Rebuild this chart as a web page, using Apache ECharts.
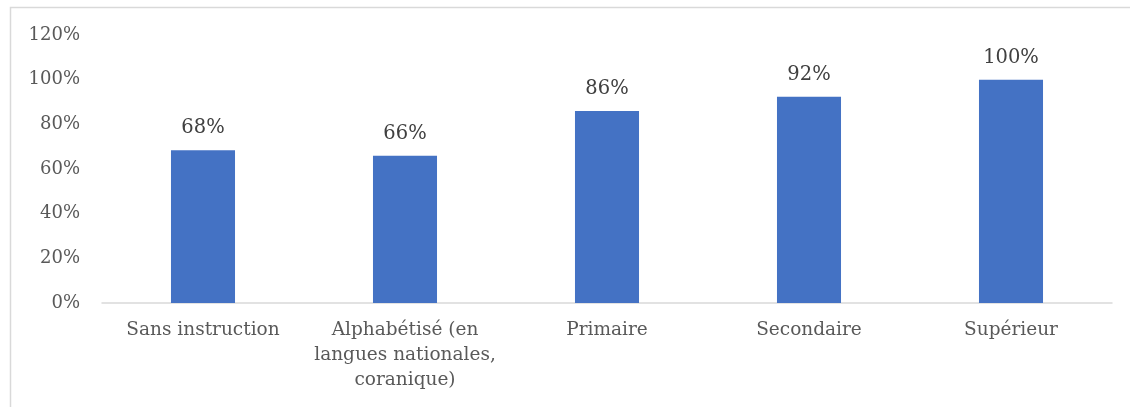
<!DOCTYPE html>
<html><head><meta charset="utf-8">
<script src="https://cdn.jsdelivr.net/npm/echarts@6/dist/echarts.min.js"></script>
<style>html,body{margin:0;padding:0;background:#fff}#c{width:1130px;height:407px}</style>
</head><body><div id="c"></div>
<script>
const categories = ["Sans instruction", "Alphabétisé (en\nlangues nationales,\ncoranique)", "Primaire", "Secondaire", "Supérieur"];
const values = [68.4, 65.9, 86, 92.3, 100];
const yTicks = [0, 20, 40, 60, 80, 100, 120];

const FONT = "DejaVu Serif";
const chart = echarts.init(document.getElementById('c'), null, {renderer: 'canvas'});
chart.setOption({
  animation: false,
  graphic: [{
    type: 'rect', shape: {x: 10.5, y: 7.5, width: 1200, height: 500},
    style: {fill: 'none', stroke: '#d9d9d9', lineWidth: 1.5}, silent: true
  }],
  grid: {left: 102, right: 18, top: 35, bottom: 104},
  xAxis: {
    type: 'category', data: categories,
    axisLine: {lineStyle: {color: '#d9d9d9', width: 1.5}},
    axisTick: {show: false},
    axisLabel: {color: '#595959', fontFamily: FONT, fontSize: 18.5, lineHeight: 25, margin: 15, interval: 0}
  },
  yAxis: {
    type: 'value', min: yTicks[0], max: yTicks[yTicks.length - 1], interval: 20,
    splitLine: {show: false}, axisLine: {show: false}, axisTick: {show: false},
    axisLabel: {color: '#595959', fontFamily: FONT, fontSize: 18, margin: 22, formatter: v => v + '%'}
  },
  series: [{
    type: 'bar', data: values, barWidth: '31.7%',
    itemStyle: {color: '#4472c4'},
    label: {show: true, position: 'top', distance: 12, color: '#404040', fontFamily: FONT, fontSize: 19.5,
      formatter: p => Math.round(p.value) + '%'}
  }]
});
</script></body></html>
